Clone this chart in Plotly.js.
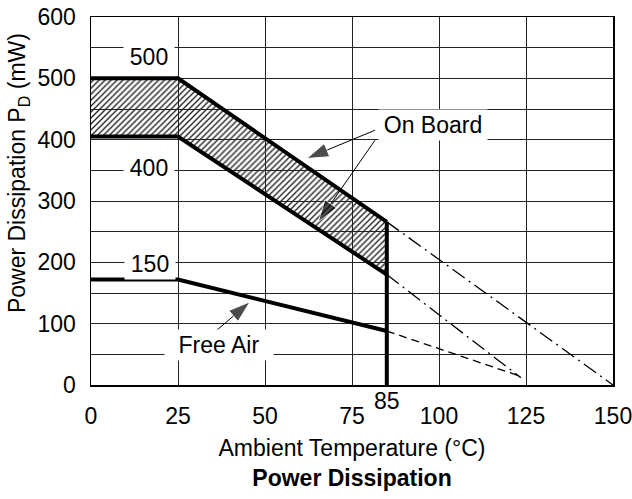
<!DOCTYPE html>
<html>
<head>
<meta charset="utf-8">
<script src="https://cdn.plot.ly/plotly-3.0.1.min.js"></script>
<style>html,body{margin:0;padding:0;background:#fff;}#chart{width:632px;height:499px;}</style>
</head>
<body>
<div id="chart"></div>
<script>
// Temperature break points (°C)
const tempPoints = [0, 25, 85];
// Derating curves (mW)
const onBoardUpper = [500, 500, 266];
const onBoardLower = [405, 405, 180];
const freeAir = [172, 172, 88];
// Extrapolated (dashed) parts
const upperExtX = [85, 150];
const upperExtY = [266, 0];
const lowerExtX = [85, 123.5];
const lowerExtY = [180, 12];
const freeExtX = [85, 123];
const freeExtY = [88, 15];
// Cut-off line at 85 °C
const cutX = [85, 85];
const cutY = [0, 266];
// Hatched area between the on-board curves
const bandX = [0, 25, 85, 85, 25, 0];
const bandY = [500, 500, 266, 180, 405, 405];
// Pointer arrows (tail -> tip)
const arrowOnBoard1X = [81.6, 62];
const arrowOnBoard1Y = [415.4, 369.3];
const arrowOnBoard2X = [81.6, 65.3];
const arrowOnBoard2Y = [399, 266];
const arrowFreeAirX = [36.2, 45.7];
const arrowFreeAirY = [89.6, 135.7];
// Axis ticks
const xTicks = [0, 25, 50, 75, 100, 125, 150];
const yTicks = [0, 100, 200, 300, 400, 500, 600];

const FONT = 'Liberation Sans, Arial, sans-serif';
const thick = {color: '#000', width: 4};
const arrowTrace = (xs, ys) => ({x: xs, y: ys, mode: 'lines+markers', line: {color: '#000', width: 1},
  marker: {symbol: 'arrow', angleref: 'previous', size: [0, 23], color: '#000'}});

const traces = [
  {x: bandX, y: bandY, mode: 'lines', fill: 'toself', line: {width: 0, color: 'rgba(0,0,0,0)'},
   fillpattern: {shape: '/', size: 4.2, solidity: 0.33, fgcolor: '#222'}, hoverinfo: 'skip'},
  {x: upperExtX, y: upperExtY, mode: 'lines', line: {color: '#000', width: 1.3, dash: '15px,5px,2px,5px'}},
  {x: lowerExtX, y: lowerExtY, mode: 'lines', line: {color: '#000', width: 1.3, dash: '15px,5px,2px,5px'}},
  {x: freeExtX, y: freeExtY, mode: 'lines', line: {color: '#000', width: 1.3, dash: '8px,5px'}},
  {x: tempPoints, y: onBoardUpper, mode: 'lines', line: thick},
  {x: tempPoints, y: onBoardLower, mode: 'lines', line: thick},
  {x: tempPoints, y: freeAir, mode: 'lines', line: thick},
  {x: cutX, y: cutY, mode: 'lines', line: thick},
  arrowTrace(arrowOnBoard1X, arrowOnBoard1Y),
  arrowTrace(arrowOnBoard2X, arrowOnBoard2Y),
  arrowTrace(arrowFreeAirX, arrowFreeAirY)
];

const txtFont = {family: FONT, size: 23, color: '#000'};
const lbl = (text, x, y, w) => ({text: text, x: x, y: y, xref: 'x', yref: 'y', showarrow: false,
  bgcolor: '#fff', borderpad: 2, width: w, font: txtFont});

const annotations = [
  lbl('500', 16.6, 534, 46),
  lbl('400', 16.6, 354, 46),
  lbl('150', 16.9, 198, 46),
  lbl('Free Air', 36.8, 66, 104),
  lbl('On Board', 98.3, 423.6, 104),
  {text: '85', x: 85, y: -(401.5 - 385) / 368.3, xref: 'x', yref: 'paper', showarrow: false,
   xanchor: 'center', yanchor: 'middle', font: txtFont},
  {text: 'Power Dissipation P<sub>D</sub> (mW)', x: (18 - 91) / 521.5, y: (385 - 173) / 368.3,
   xref: 'paper', yref: 'paper', xanchor: 'center', yanchor: 'middle',
   showarrow: false, textangle: -90, font: txtFont}
];

const layout = {
  width: 632, height: 499,
  margin: {l: 91, r: 19, t: 17, b: 114},
  paper_bgcolor: '#fff', plot_bgcolor: '#fff',
  showlegend: false,
  font: txtFont,
  title: {text: '<b>Power Dissipation</b>', x: 0.5, xref: 'paper', y: 1 - 478 / 499, yref: 'container',
    yanchor: 'middle', font: txtFont},
  xaxis: {range: [0, 150], tickvals: xTicks, ticktext: xTicks.map(String), ticks: '',
    showgrid: true, gridcolor: '#222', gridwidth: 1, zeroline: false,
    showline: true, linecolor: '#000', linewidth: 1.5, mirror: true,
    ticklabelstandoff: 10, ticklabeloverflow: 'allow',
    title: {text: 'Ambient Temperature (°C)', standoff: 12, font: txtFont},
    tickfont: txtFont},
  yaxis: {range: [0, 600], tickvals: yTicks, ticktext: yTicks.map(String), ticks: '',
    showgrid: true, gridcolor: '#222', gridwidth: 1, zeroline: false,
    minor: {dtick: 50, showgrid: true, gridcolor: '#222', gridwidth: 1},
    showline: true, linecolor: '#000', linewidth: 1.5, mirror: true,
    ticklabelstandoff: 9, ticklabeloverflow: 'allow',
    tickfont: txtFont},
  annotations: annotations
};

Plotly.newPlot('chart', traces, layout, {staticPlot: true, displayModeBar: false});
</script>
</body>
</html>
